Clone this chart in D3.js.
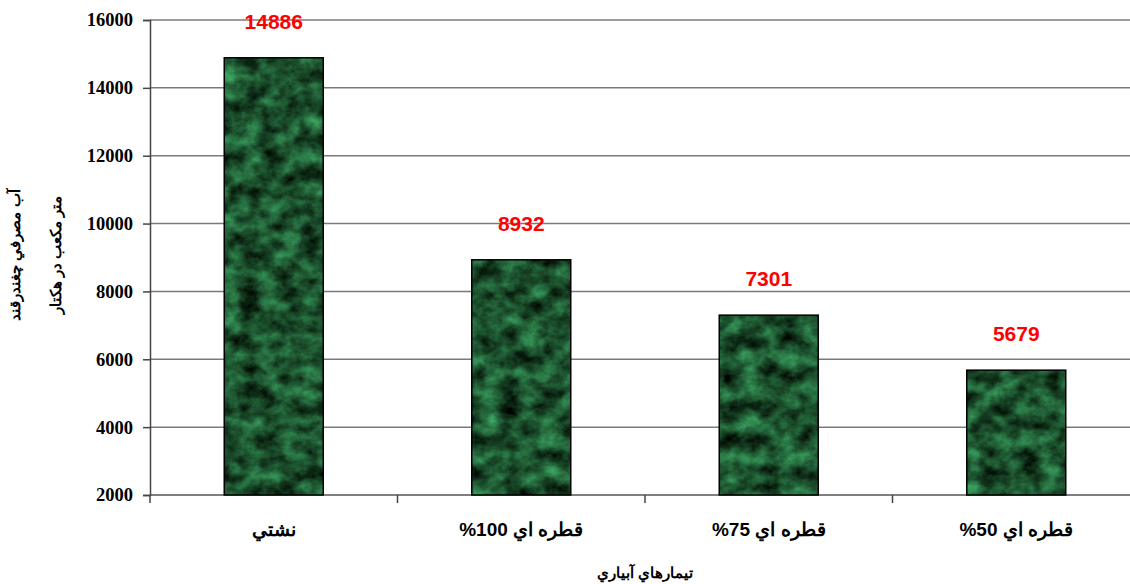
<!DOCTYPE html>
<html lang="fa">
<head>
    <meta charset="UTF-8">
    <title>آب مصرفي چغندرقند</title>
    <script src="https://d3js.org/d3.v7.min.js"></script>
    <style>
        body { margin: 0; padding: 0; background: #fff; }
        svg { display: block; }
        .tick-y { font-family: "Liberation Serif", "Times New Roman", serif; font-weight: bold; font-size: 18.5px; }
        .cat { font-family: "Liberation Sans", Arial, sans-serif; font-weight: bold; font-size: 19px; }
        .val { font-family: "Liberation Sans", Arial, sans-serif; font-weight: bold; font-size: 21px; fill: #ff0000; }
        .ttl { font-family: "Liberation Sans", Arial, sans-serif; font-weight: bold; font-size: 14.5px; }
    </style>
</head>
<body>
<svg id="chart" width="1130" height="584"></svg>
<script>
// data
var categories = ["نشتي", "قطره اي 100%", "قطره اي 75%", "قطره اي 50%"];
var waterUse = [14886, 8932, 7301, 5679];
var yTicks = [2000, 4000, 6000, 8000, 10000, 12000, 14000, 16000];
var xTitle = "تيمارهاي آبياري";
var yTitleLines = ["آب مصرفي چغندرقند", "متر مكعب در هكتار"];

var svg = d3.select("#chart");
// plot box (right edge runs past the picture, as in the original)
var plotL = 150, plotR = 1140, plotT = 20, plotB = 495;

var x = d3.scaleBand().domain(categories).range([plotL, plotR]).paddingInner(0.6).paddingOuter(0.3);
var xb = d3.scaleBand().domain(categories).range([plotL, plotR]);
var y = d3.scaleLinear().domain([2000, 16000]).range([plotB, plotT]);

// dark green marble texture for bars
var defs = svg.append("defs");
var f = defs.append("filter").attr("id", "marble")
    .attr("x", 0).attr("y", 0).attr("width", 1).attr("height", 1)
    .attr("filterUnits", "objectBoundingBox")
    .attr("color-interpolation-filters", "sRGB");
f.append("feTurbulence").attr("type", "fractalNoise")
    .attr("baseFrequency", "0.05 0.06").attr("numOctaves", 5).attr("seed", 11).attr("result", "noise");
f.append("feColorMatrix").attr("in", "noise").attr("type", "matrix")
    .attr("values", "0.3 0 0 0 -0.04  0.8 0 0 0 -0.08  0.5 0 0 0 -0.07  0 0 0 0 1")
    .attr("result", "tint");
f.append("feComposite").attr("in", "tint").attr("in2", "SourceGraphic").attr("operator", "in");

// gridlines
svg.append("g").selectAll("line").data(yTicks).enter().append("line")
    .attr("x1", plotL).attr("x2", plotR)
    .attr("y1", function(d) { return y(d); }).attr("y2", function(d) { return y(d); })
    .attr("stroke", function(d) { return d === 2000 ? "#555" : "#7a7a7a"; })
    .attr("stroke-width", 1.5);

// y axis
var yAxis = svg.append("g").attr("transform", "translate(" + plotL + ",0)")
    .call(d3.axisLeft(y).tickValues(yTicks).tickSize(7).tickPadding(10).tickFormat(d3.format("d")));
yAxis.select(".domain").attr("stroke", "#444").attr("stroke-width", 1.5);
yAxis.selectAll(".tick line").attr("stroke", "#444").attr("stroke-width", 1.5);
yAxis.selectAll(".tick text").attr("class", "tick-y").attr("fill", "#000");

// x axis ticks at band edges
svg.append("g").selectAll("line").data(categories.concat(["end"])).enter().append("line")
    .attr("x1", function(d, i) { return plotL + i * xb.step(); })
    .attr("x2", function(d, i) { return plotL + i * xb.step(); })
    .attr("y1", plotB).attr("y2", plotB + 8)
    .attr("stroke", "#444").attr("stroke-width", 1.5);

svg.append("g").selectAll("text").data(categories).enter().append("text")
    .attr("class", "cat")
    .attr("x", function(d) { return xb(d) + xb.bandwidth() / 2; })
    .attr("y", 536)
    .attr("text-anchor", "middle")
    .attr("direction", "rtl")
    .text(function(d) { return d; });

// bars
var bars = svg.append("g");
bars.selectAll("rect.fill").data(waterUse).enter().append("rect")
    .attr("class", "fill")
    .attr("x", function(d, i) { return x(categories[i]); })
    .attr("y", function(d) { return y(d); })
    .attr("width", x.bandwidth())
    .attr("height", function(d) { return plotB - y(d); })
    .attr("fill", "#1e5a32")
    .attr("filter", "url(#marble)");
bars.selectAll("rect.edge").data(waterUse).enter().append("rect")
    .attr("class", "edge")
    .attr("x", function(d, i) { return x(categories[i]); })
    .attr("y", function(d) { return y(d); })
    .attr("width", x.bandwidth())
    .attr("height", function(d) { return plotB - y(d); })
    .attr("fill", "none").attr("stroke", "#000").attr("stroke-width", 1.5);

// value labels
svg.append("g").selectAll("text").data(waterUse).enter().append("text")
    .attr("class", "val")
    .attr("x", function(d, i) { return x(categories[i]) + x.bandwidth() / 2; })
    .attr("y", function(d) { return y(d) - 29; })
    .attr("text-anchor", "middle")
    .text(function(d) { return d; });

// axis titles
svg.append("text").attr("class", "ttl")
    .attr("x", 645).attr("y", 578)
    .attr("text-anchor", "middle").attr("direction", "rtl")
    .text(xTitle);

svg.append("g").selectAll("text").data(yTitleLines).enter().append("text")
    .attr("class", "ttl")
    .attr("transform", function(d, i) { return "translate(" + (20 + i * 41) + ",255) rotate(-90)"; })
    .attr("text-anchor", "middle").attr("direction", "rtl")
    .text(function(d) { return d; });
</script>
</body>
</html>
